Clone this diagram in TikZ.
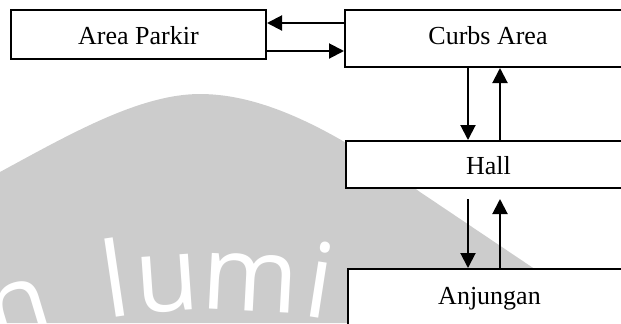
\documentclass[tikz,border=0pt]{standalone}
\usepackage{fontspec}
\setmainfont{Liberation Serif}
\newfontfamily\wmfont{Open Sans}
\usetikzlibrary{arrows.meta}
\definecolor{wmgray}{RGB}{204,204,204}

\begin{document}
\begin{tikzpicture}[x=.5pt,y=.5pt,
  area/.style={draw, line width=1pt, fill=white, anchor=north west, inner sep=0pt,
    text height=10pt, text depth=0pt, font=\fontsize{13pt}{15pt}\selectfont},
  flow/.style={line width=1pt, -{Triangle[length=7.5pt,width=7.5pt]}},
  wmletter/.style={text=white, anchor=base, inner sep=0pt,
    font=\wmfont\fontsize{52pt}{52pt}\selectfont}]
\useasboundingbox (0,0) rectangle (621,323);
\clip (0,0) rectangle (621,323);
% watermark in the back
\fill [wmgray] (0,0) -- (0,151) .. controls (70,189) and (140,229) .. (200,229)
  .. controls (260,229) and (330,197) .. (420,131) -- (560,37) -- (560,0) -- cycle;
\foreach \ch/\a in {n/16.8,l/8.4,u/4,m/-3,i/-8.8}
  \node (wm\ch) [wmletter, rotate=\a] at ([shift={(215,-637)}]90+\a:650) {\ch};
% areas
\node (parkir) [area, minimum width=127.5pt, minimum height=24.5pt] at (10,314) {Area Parkir};
\node (curbs) [area, minimum width=143pt, minimum height=28.5pt, text depth=4.5pt] at (344,314) {Curbs Area};
\node (hall) [area, minimum width=142.5pt, minimum height=23.5pt] at (345,183) {Hall};
\node (anjungan) [area, minimum width=141.5pt, minimum height=36pt, text depth=11pt] at (347,55) {Anjungan};
% flows between areas
\draw [flow] (curbs.west |- 0,300) -- (parkir.east |- 0,300);
\draw [flow] (parkir.east |- 0,272) -- (curbs.west |- 0,272);
\draw [flow] (468,0 |- curbs.south) -- (468,0 |- hall.north);
\draw [flow] (500,0 |- hall.north) -- (500,0 |- curbs.south);
\coordinate (gap) at ([yshift=-5pt]hall.south);
\draw [flow] (gap -| 468,0) -- (468,0 |- anjungan.north);
\draw [flow] (500,0 |- anjungan.north) -- (gap -| 500,0);
\end{tikzpicture}
\end{document}
